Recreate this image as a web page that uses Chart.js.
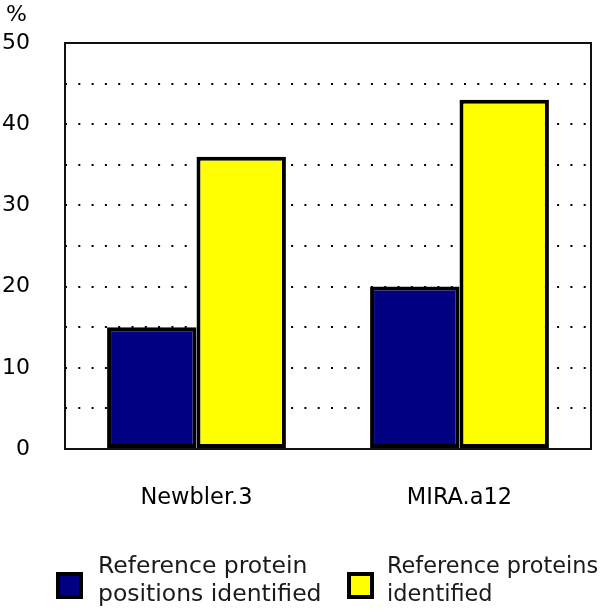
<!DOCTYPE html>
<html>
<head>
<meta charset="utf-8">
<script src="https://cdn.jsdelivr.net/npm/chart.js@4.4.0/dist/chart.umd.min.js"></script>
<style>
    body { margin: 0; background: #fff; font-family: 'DejaVu Sans', sans-serif; }
    #wrap { position: relative; width: 600px; height: 612px; overflow: hidden; }
    #unit { position: absolute; left: 6px; top: 1px; font-size: 22px; color: #000; }
    .leg { position: absolute; top: 551px; font-size: 23.5px; line-height: 28px; color: #1a1a1a; }
    .leg .box { position: absolute; left: 0; top: 21px; width: 19px; height: 19px; border: 4px solid #000; }
    .leg .txt { position: absolute; white-space: nowrap; }
</style>
</head>
<body>
<div id="wrap">
    <canvas id="chart" width="600" height="612"></canvas>
    <div id="unit">%</div>
    <div id="legend"></div>
</div>
<script>
const categories = ['Newbler.3', 'MIRA.a12'];
const positionsIdentified = [15, 20];
const proteinsIdentified = [36, 43];
const seriesNames = [['Reference protein', 'positions identified'], ['Reference proteins', 'identified']];
const seriesColors = ['#000080', '#ffff00'];
const yTicks = [0, 10, 20, 30, 40, 50];

// black frame round the plot area
const frame = {
    id: 'frame',
    afterDraw(chart) {
        const a = chart.chartArea;
        const ctx = chart.ctx;
        ctx.save();
        ctx.strokeStyle = '#111';
        ctx.lineWidth = 2;
        ctx.strokeRect(a.left, a.top, a.right - a.left, a.bottom - a.top);
        ctx.restore();
    }
};

new Chart(document.getElementById('chart'), {
    type: 'bar',
    data: {
        labels: categories,
        datasets: [
            {
                label: seriesNames[0].join(' '),
                data: positionsIdentified,
                backgroundColor: seriesColors[0],
                borderColor: '#000',
                borderWidth: 4,
                borderSkipped: false
            },
            {
                label: seriesNames[1].join(' '),
                data: proteinsIdentified,
                backgroundColor: seriesColors[1],
                borderColor: '#000',
                borderWidth: 4,
                borderSkipped: false
            }
        ]
    },
    options: {
        responsive: false,
        animation: false,
        layout: { padding: { top: 43, right: 9, left: 0, bottom: 0 } },
        datasets: { bar: { barPercentage: 1, categoryPercentage: 0.68 } },
        plugins: {
            legend: { display: false },
            tooltip: { enabled: false }
        },
        scales: {
            x: {
                grid: { display: false },
                border: { display: false },
                ticks: { color: '#000', font: { family: 'DejaVu Sans', size: 22.5 }, padding: 28 },
                afterFit(scale) { scale.height = 163; }
            },
            y: {
                min: 0,
                max: 50,
                border: { display: false, dash: [2, 11.3] },
                grid: {
                    color: '#000',
                    lineWidth: 2,
                    drawTicks: false
                },
                ticks: {
                    stepSize: 5,
                    color: '#000',
                    padding: 35,
                    font: { family: 'DejaVu Sans', size: 22 },
                    callback: v => yTicks.includes(v) ? String(v) : ''
                },
                afterFit(scale) {
                    scale.width = 65;
                    scale.paddingTop = 0;
                    scale.paddingBottom = 0;
                }
            }
        }
    },
    plugins: [frame]
});

const legend = document.getElementById('legend');
const legendX = [56, 347];
const legendTextX = [42, 40];
const legendSize = ['23.5px', '22.4px'];
seriesNames.forEach((lines, i) => {
    const item = document.createElement('div');
    item.className = 'leg';
    item.style.left = legendX[i] + 'px';
    item.innerHTML = '<div class="box" style="background:' + seriesColors[i] + '"></div>' +
        '<div class="txt" style="left:' + legendTextX[i] + 'px;font-size:' + legendSize[i] + '">' +
        lines.join('<br>') + '</div>';
    legend.appendChild(item);
});
</script>
</body>
</html>
